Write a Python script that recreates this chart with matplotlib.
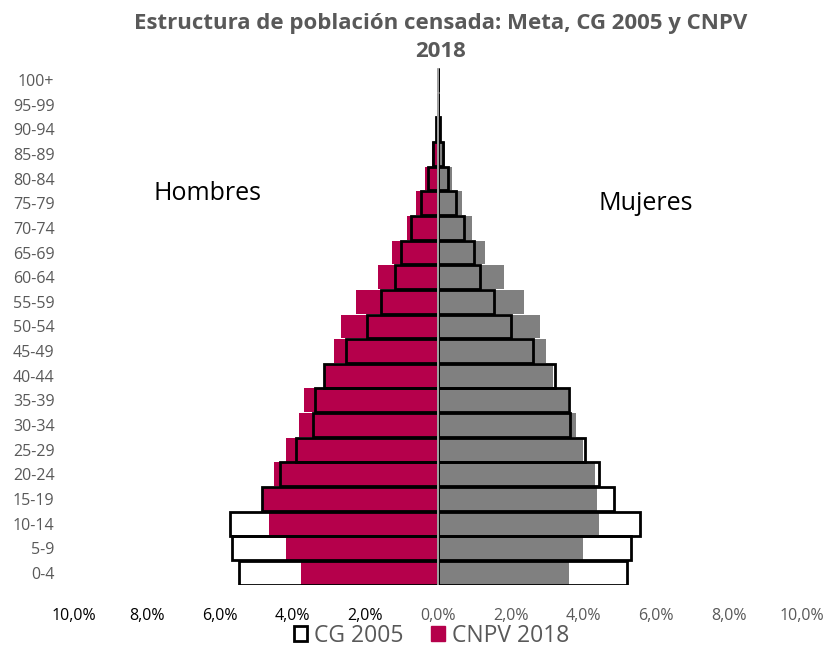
import matplotlib.pyplot as plt
from matplotlib.patches import Patch

plt.rcParams['font.family'] = ['Open Sans', 'DejaVu Sans']

# grupos de edad
grupos = ["0-4", "5-9", "10-14", "15-19", "20-24", "25-29", "30-34", "35-39",
          "40-44", "45-49", "50-54", "55-59", "60-64", "65-69", "70-74",
          "75-79", "80-84", "85-89", "90-94", "95-99", "100+"]

# porcentajes (%)
hombres_2005 = [5.46, 5.65, 5.71, 4.84, 4.34, 3.90, 3.44, 3.37, 3.12, 2.53, 1.96,
                1.56, 1.19, 1.01, 0.74, 0.47, 0.28, 0.13, 0.04, 0.01, 0.005]
mujeres_2005 = [5.20, 5.30, 5.56, 4.84, 4.42, 4.04, 3.63, 3.61, 3.22, 2.62, 2.00,
                1.54, 1.15, 0.99, 0.71, 0.49, 0.27, 0.15, 0.05, 0.015, 0.005]
hombres_2018 = [3.76, 4.17, 4.64, 4.80, 4.51, 4.17, 3.82, 3.67, 3.10, 2.85, 2.66,
                2.25, 1.65, 1.25, 0.86, 0.60, 0.35, 0.16, 0.05, 0.015, 0.005]
mujeres_2018 = [3.61, 3.99, 4.43, 4.36, 4.31, 3.99, 3.78, 3.58, 3.17, 2.96, 2.80,
                2.36, 1.81, 1.29, 0.93, 0.65, 0.40, 0.19, 0.07, 0.02, 0.01]

rojo = "#B5004B"
gris = "#808080"
texto = "#595959"

fig = plt.figure(figsize=(8.31, 6.5), dpi=100)
ax = fig.add_axes([0.089, 0.0995, 0.876, 0.7965])

y = list(range(len(grupos)))
alto = 0.97

# CNPV 2018 (relleno)
ax.barh(y, [-v for v in hombres_2018], height=alto, color=rojo, zorder=2)
ax.barh(y, mujeres_2018, height=alto, color=gris, zorder=2)

# CG 2005 (solo contorno)
ax.barh(y, [-v for v in hombres_2005], height=alto, fill=False,
        edgecolor="black", linewidth=2, zorder=3)
ax.barh(y, mujeres_2005, height=alto, fill=False,
        edgecolor="black", linewidth=2, zorder=3)

ax.axvline(0, color="#BFBFBF", linewidth=1.2, zorder=4)

ax.set_xlim(-10, 10)
ax.set_ylim(-0.5, len(grupos) - 0.5)

ticks = [-10, -8, -6, -4, -2, 0, 2, 4, 6, 8, 10]
ax.set_xticks(ticks)
ax.set_xticklabels([f"{abs(t):.1f}".replace(".", ",") + "%" for t in ticks],
                   fontsize=11.5)
for t, lab in zip(ticks, ax.get_xticklabels()):
    lab.set_color("black" if t < 0 else texto)
ax.tick_params(axis="x", length=0, pad=16)

ax.set_yticks(y)
ax.set_yticklabels(grupos, fontsize=11.5, color=texto)
ax.tick_params(axis="y", length=0, pad=14)

for s in ax.spines.values():
    s.set_visible(False)

ax.text(-6.32, 15.4, "Hombres", fontsize=18, color="black", ha="center", va="center")
ax.text(5.71, 15.0, "Mujeres", fontsize=18, color="black", ha="center", va="center")

fig.suptitle("Estructura de población censada: Meta, CG 2005 y CNPV\n2018",
             fontsize=16, fontweight="bold", color=texto, x=0.53, y=0.98,
             linespacing=1.45)

handles = [Patch(facecolor="white", edgecolor="black", linewidth=2),
           Patch(facecolor=rojo, edgecolor=rojo)]
leg = fig.legend(handles, ["CG 2005", "CNPV 2018"], loc="center",
                 bbox_to_anchor=(0.519, 0.022), ncol=2, frameon=False,
                 fontsize=16.5, handlelength=0.6, handleheight=0.6,
                 handletextpad=0.3, columnspacing=1.2)
for t in leg.get_texts():
    t.set_color(texto)

fig.savefig("out.png", dpi=100)
